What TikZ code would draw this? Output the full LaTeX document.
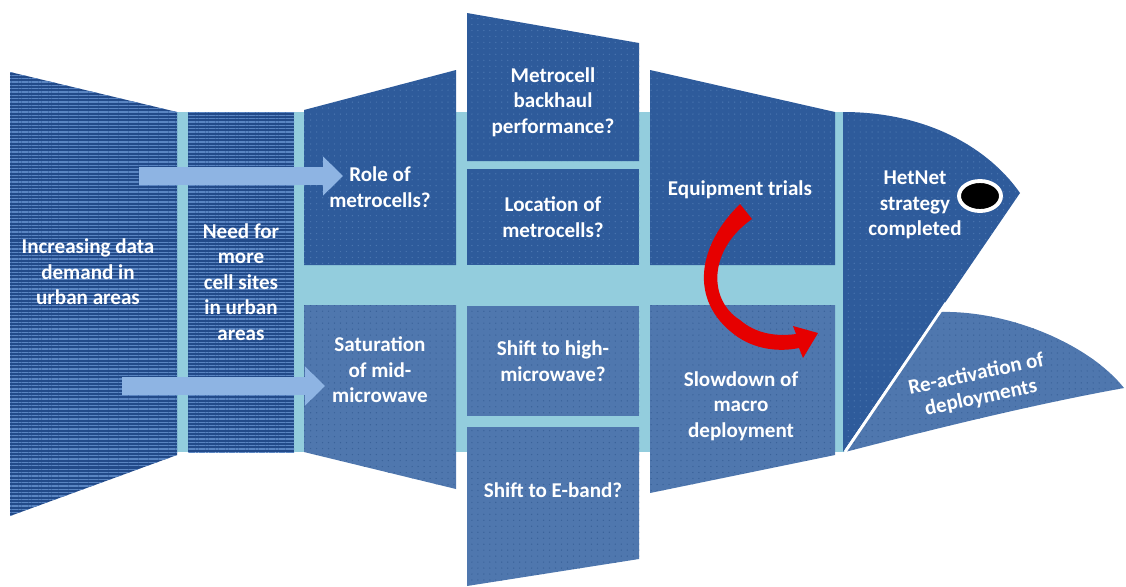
\documentclass[tikz,border=0pt]{standalone}
\usepackage{fontspec}
\setmainfont{Carlito}
\usetikzlibrary{patterns.meta,arrows.meta,shapes.geometric}
\definecolor{band}{HTML}{93CDDD}
\definecolor{upblue}{HTML}{2E5B9B}
\definecolor{updot}{HTML}{4A75B0}
\definecolor{lowblue}{HTML}{4F77AE}
\definecolor{lowdot}{HTML}{3A6299}
\definecolor{stripebase}{HTML}{224A89}
\definecolor{stripeline}{HTML}{5A85C2}
\definecolor{arrowblue}{HTML}{8EB4E3}
\definecolor{bendred}{HTML}{E60000}
\begin{document}
\begin{tikzpicture}[x=0.02cm,y=-0.02cm,
  stripes/.style={preaction={fill=stripebase},
    pattern={Lines[angle=0,distance=1.9pt,line width=0.75pt]},pattern color=stripeline},
  upper/.style={preaction={fill=upblue},
    pattern={Dots[distance=3.4pt,radius=0.4pt]},pattern color=updot},
  lower/.style={preaction={fill=lowblue},
    pattern={Dots[distance=3.4pt,radius=0.4pt]},pattern color=lowdot},
  lbl/.style={text=white,align=center,inner sep=0pt,
    font=\fontsize{12}{14.6}\selectfont\bfseries},
  blockarrow/.style={draw=arrowblue,line width=10.2pt,
    -{Triangle[length=11.3pt,width=21.5pt]}},
  eyeball/.style={ellipse,draw=white,fill=black,line width=2.2pt,inner sep=0pt,
    minimum width=0.84cm,minimum height=0.6cm}]
\useasboundingbox (0,0) rectangle (1126,586);

% spine of the fish
\fill[band] (177,112) rectangle (845,452);

% tail and first column (horizontal stripes)
\path[stripes] (10,72) -- (177,112) -- (177,455) -- (10,516) -- cycle;
\path[stripes] (188,112) rectangle (294,452);

% second column
\path[upper] (304,110) -- (456,70) -- (456,265) -- (304,265) -- cycle;
\path[lower] (304,305) -- (456,305) -- (456,489) -- (304,452) -- cycle;

% third column
\path[upper] (467,13) -- (639,43) -- (639,161) -- (467,161) -- cycle;
\path[upper] (467,169) rectangle (639,265);
\path[lower] (467,306) rectangle (639,416);
\path[lower] (467,427) -- (639,427) -- (639,559) -- (467,586) -- cycle;

% fourth column
\path[upper] (650,70) -- (835,112) -- (835,265) -- (650,265) -- cycle;
\path[lower] (650,305) -- (835,305) -- (835,455) -- (650,493) -- cycle;

% lower fin
\path[lower] (845,452) -- (939,312) .. controls (1010,310) and (1090,345) .. (1124,388)
  .. controls (1030,405) and (930,430) .. cycle;

% head
\path[upper] (843,112) .. controls (930,112) and (990,150) .. (1020,193)
  -- (843,452) -- cycle;
\draw[white,line width=1.6pt] (845,452) -- (946,303);

% eye
\node[eyeball] (eye) at (980,196) {};

% labels
\node[lbl] (demand) at (88,272) {Increasing data\\demand in\\urban areas};
\node[lbl] (sites) at (241,282) {Need for\\more\\cell sites\\in urban\\areas};
\node[lbl] (role) at (380,187) {Role of\\metrocells?};
\node[lbl] (satur) at (380,370) {Saturation\\of mid-\\microwave};
\node[lbl] (backhaul) at (553,102) {Metrocell\\backhaul\\performance?};
\node[lbl] (location) at (553,217) {Location of\\metrocells?};
\node[lbl] (high) at (553,361) {Shift to high-\\microwave?};
\node[lbl] (eband) at (553,490) {Shift to E-band?};
\node[lbl] (trials) at (740,190) {Equipment trials};
\node[lbl] (slow) at (741,406) {Slowdown of\\macro\\deployment};
\node[lbl] (hetnet) at (915,205) {HetNet\\strategy\\completed};
\node[lbl,rotate=12] (react) at (976,373) {Re-activation of};
\node[lbl,rotate=12] (deploy) at (981,398) {deployments};

% block arrows from the tail
\coordinate (upfrom) at (139,176);
\coordinate (upto) at (343,176);
\coordinate (lowfrom) at (122,386);
\coordinate (lowto) at (325,386);
\draw[blockarrow] (upfrom) -- (upto);
\draw[blockarrow] (lowfrom) -- (lowto);

% red bent arrow from the trials down to the slowdown
\fill[bendred] (740,204) .. controls (698,245) and (688,300) .. (735,335)
  .. controls (755,350) and (780,352) .. (799,348) -- (803,358) -- (818,333)
  -- (793,326) -- (796,334) .. controls (775,337) and (755,333) .. (740,320)
  .. controls (708,300) and (708,250) .. (752,219) -- cycle;
\end{tikzpicture}
\end{document}
